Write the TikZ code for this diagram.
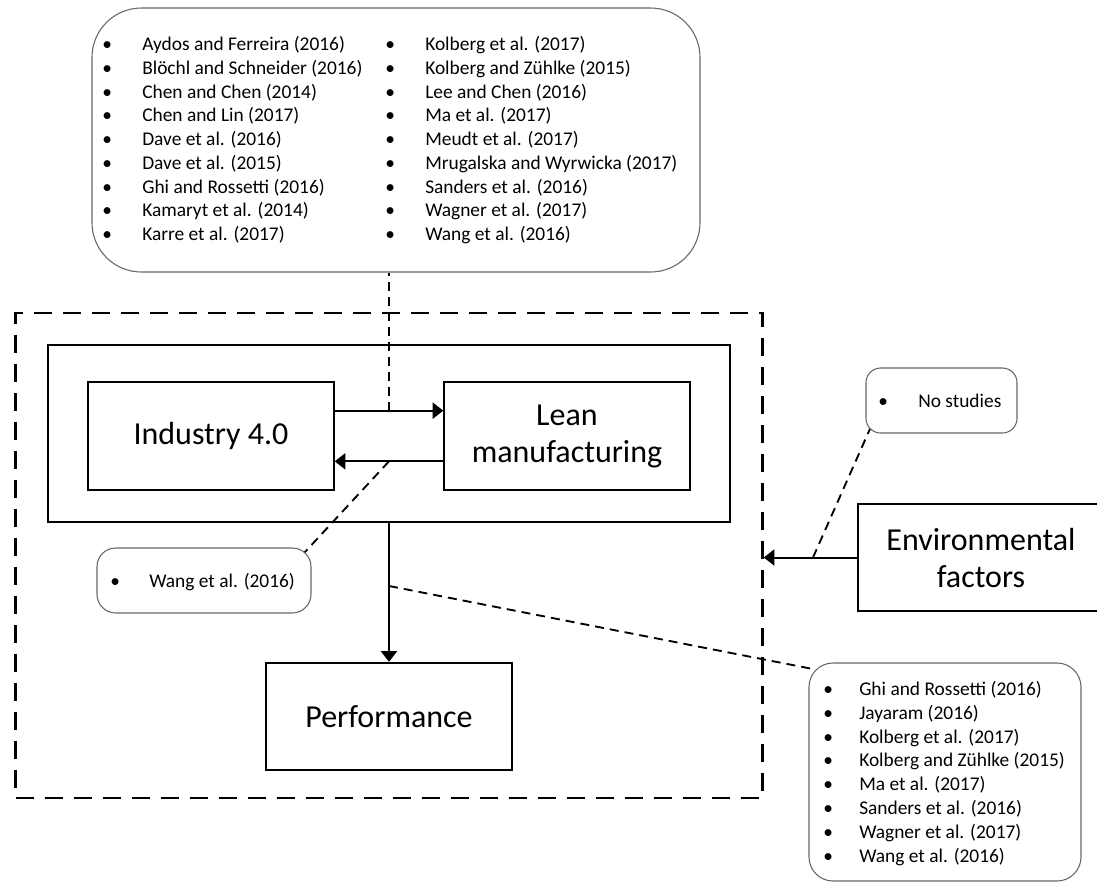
\documentclass[tikz,border=0pt]{standalone}
\usepackage{fontspec}
\setmainfont{Carlito}
\usetikzlibrary{arrows.meta}
\newcommand{\refitem}[2][26.25pt]{\llap{\makebox[0pt]{\textbullet}\hspace{#1}}#2}

\begin{document}
\begin{tikzpicture}[x=0.75pt,y=-0.75pt,
  block/.style={draw,line width=1.5pt,minimum width=184pt,minimum height=80.5pt,inner sep=0pt,align=center,font=\fontsize{24}{27.75}\selectfont},
  litbox/.style={draw=gray!80!black,line width=0.8pt,inner sep=0pt},
  litem/.style={anchor=base west,inner sep=0pt,font=\fontsize{14.55}{17.8}\selectfont},
  flow/.style={line width=1.5pt,-{Triangle[length=8pt,width=12pt]}},
  dashlink/.style={line width=1.4pt,dash pattern=on 6.75pt off 4.5pt}]
\useasboundingbox (0,0) rectangle (1097,883);
\node[draw,line width=1.8pt,dash pattern=on 13.5pt off 8.25pt,minimum width=560.25pt,minimum height=363.75pt,inner sep=0pt] (frame) at (389,555.5) {};
\node[draw,line width=1.5pt,minimum width=511.5pt,minimum height=132.75pt,inner sep=0pt] (core) at (389,433.5) {};
\node[block] (ind) at (211,436) {Industry 4.0};
\node[block] (lean) at (567,436) {Lean\\manufacturing};
\node[block] (perf) at (389,716.5) {Performance};
\node[block] (env) at (981,557.5) {Environmental\\factors};

\draw[flow] ([yshift=19pt]ind.east) -- ([yshift=19pt]lean.west);
\draw[flow] ([yshift=-19pt]lean.west) -- ([yshift=-19pt]ind.east);
\draw[flow] (core.south) -- (perf.north);
\draw[flow] (env.west) -- (env.west -| frame.east);
\coordinate (m1) at (389,410.7);
\coordinate (m2) at (389,461.3);
\coordinate (m3) at (389,586);
\coordinate (m4) at (813,557.5);

\node[litbox,rounded corners=37pt,minimum width=456pt,minimum height=198pt] (lit) at (396,140) {};
\node[litbox,rounded corners=14pt,minimum width=160.5pt,minimum height=48.75pt] (wang) at (204,580.5) {};
\node[litbox,rounded corners=11pt,minimum width=113.25pt,minimum height=48.75pt] (none) at (941.5,400.5) {};
\node[litbox,rounded corners=18pt,minimum width=204pt,minimum height=163.5pt] (later) at (945,772) {};

\foreach \t [count=\i from 0] in {Aydos and Ferreira (2016),Blöchl and Schneider (2016),Chen and Chen (2014),Chen and Lin (2017),Dave et al. (2016),Dave et al. (2015),Ghi and Rossetti (2016),Kamaryt et al. (2014),Karre et al. (2017)}
  \node[litem] (la\i) at (142,50.5+23.75*\i) {\refitem{\t}};
\foreach \t [count=\i from 0] in {Kolberg et al. (2017),Kolberg and Zühlke (2015),Lee and Chen (2016),Ma et al. (2017),Meudt et al. (2017),Mrugalska and Wyrwicka (2017),Sanders et al. (2016),Wagner et al. (2017),Wang et al. (2016)}
  \node[litem] (lb\i) at (425,50.5+23.75*\i) {\refitem{\t}};
\foreach \t [count=\i from 0] in {Ghi and Rossetti (2016),Jayaram (2016),Kolberg et al. (2017),Kolberg and Zühlke (2015),Ma et al. (2017),Sanders et al. (2016),Wagner et al. (2017),Wang et al. (2016)}
  \node[litem] (lc\i) at (859,695.5+23.8*\i) {\refitem[23.25pt]{\t}};
\node[litem] (wt) at (149,587.5) {\refitem[25.5pt]{Wang et al. (2016)}};
\node[litem] (nt) at (918,407.5) {\refitem{No studies}};

\draw[dashlink] (m1) -- (m1 |- lit.south);
\draw[dashlink] (m2) -- ([xshift=-5pt,yshift=-3.5pt]wang.north east);
\draw[dashlink] (m3) -- ([xshift=5.3pt,yshift=-5.3pt]later.north west);
\draw[dashlink] (m4) -- ([xshift=3.3pt,yshift=3.3pt]none.south west);
\end{tikzpicture}
\end{document}
